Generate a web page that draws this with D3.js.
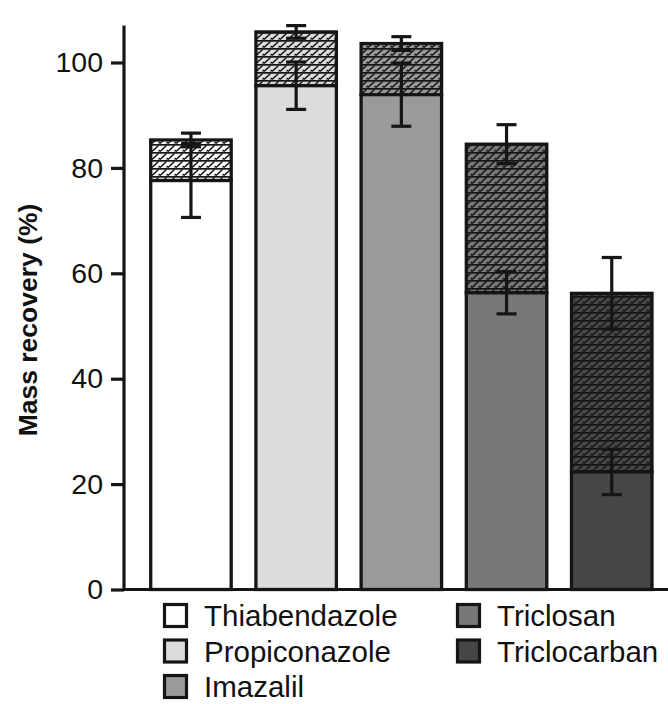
<!DOCTYPE html>
<html><head><meta charset="utf-8">
<script src="https://cdn.jsdelivr.net/npm/d3@7"></script>
<style>html,body{margin:0;padding:0;background:#fff;}svg{display:block;}</style>
</head><body><svg id="chart" width="668" height="704"></svg>
<script>
const categories = ["Thiabendazole","Propiconazole","Imazalil","Triclosan","Triclocarban"];
const baseValues = [77.6, 95.6, 93.9, 56.3, 22.3];
const baseErrors = [7.0, 4.5, 6.0, 4.0, 4.3];
const totalValues = [85.3, 105.8, 103.6, 84.5, 56.2];
const totalErrors = [1.3, 1.2, 1.3, 3.7, 6.8];
const fills = ["#ffffff","#dcdcdc","#9a9a9a","#787878","#464646"];
const yTicks = [0,20,40,60,80,100];
const yMaxValue = 107;

const svg = d3.select("#chart");
const ink = "#151515";
const font = "'Liberation Sans', Arial, sans-serif";

const y = d3.scaleLinear().domain([0,100]).range([589.5,62.5]);
const x = d3.scaleBand().domain(categories).range([124,678.7]).paddingInner(0.235).paddingOuter(0.254);

// hatch patterns
const defs = svg.append("defs");
categories.forEach((c,i)=>{
  const p = defs.append("pattern").attr("id","hatch"+i).attr("patternUnits","userSpaceOnUse")
    .attr("width",8).attr("height",8);
  p.append("rect").attr("width",8).attr("height",8).attr("fill",fills[i]);
  p.append("line").attr("x1",0).attr("y1",0.8).attr("x2",8).attr("y2",0.8).attr("stroke",ink).attr("stroke-width",1.8);
  p.append("line").attr("x1",0).attr("y1",7.5).attr("x2",6.5).attr("y2",1.5).attr("stroke",ink).attr("stroke-width",1.5);
  p.append("line").attr("x1",6.5).attr("y1",7.5).attr("x2",8).attr("y2",6).attr("stroke",ink).attr("stroke-width",1.5);
});

// bars
const g = svg.append("g");
categories.forEach((c,i)=>{
  g.append("rect").attr("x",x(c)).attr("width",x.bandwidth())
    .attr("y",y(totalValues[i])).attr("height",y(baseValues[i])-y(totalValues[i]))
    .attr("fill","url(#hatch"+i+")").attr("stroke",ink).attr("stroke-width",3.3);
  g.append("rect").attr("x",x(c)).attr("width",x.bandwidth())
    .attr("y",y(baseValues[i])).attr("height",y(0)-y(baseValues[i]))
    .attr("fill",fills[i]).attr("stroke",ink).attr("stroke-width",3.3);
});

// error bars
function errBar(cx, v, e){
  const cw = 10;
  g.append("line").attr("x1",cx).attr("x2",cx).attr("y1",y(v-e)).attr("y2",y(v+e)).attr("stroke",ink).attr("stroke-width",3.2);
  [v-e, v+e].forEach(t=>{
    g.append("line").attr("x1",cx-cw).attr("x2",cx+cw).attr("y1",y(t)).attr("y2",y(t)).attr("stroke",ink).attr("stroke-width",3.2);
  });
}
categories.forEach((c,i)=>{
  const cx = x(c)+x.bandwidth()/2;
  errBar(cx, baseValues[i], baseErrors[i]);
  errBar(cx, totalValues[i], totalErrors[i]);
});

// axes
const yAxis = svg.append("g").attr("transform","translate(124,0)")
  .call(d3.axisLeft(y).tickValues(yTicks).tickSize(13).tickPadding(8));
yAxis.select(".domain").remove();
yAxis.selectAll(".tick line").attr("stroke",ink).attr("stroke-width",3.2);
yAxis.selectAll(".tick text").attr("font-family",font).attr("font-size",28.5).attr("fill","#111");
svg.append("line").attr("x1",124).attr("x2",124).attr("y1",y(yMaxValue)).attr("y2",y(0)+1.5)
  .attr("stroke",ink).attr("stroke-width",3.2);
svg.append("line").attr("x1",122.5).attr("x2",668).attr("y1",y(0)).attr("y2",y(0))
  .attr("stroke",ink).attr("stroke-width",3.2);

svg.append("text").attr("transform","translate(37,320) rotate(-90)")
  .attr("text-anchor","middle").attr("font-family",font).attr("font-weight","bold")
  .attr("font-size",26.5).attr("fill","#111").text("Mass recovery (%)");

// legend
const legendCols = [[0,1,2],[3,4]];
const colX = [163, 456];
legendCols.forEach((col,ci)=>{
  col.forEach((idx,ri)=>{
    const ly = 603 + ri*35.5;
    svg.append("rect").attr("x",colX[ci]+1.5).attr("y",ly+1.5).attr("width",22).attr("height",22)
      .attr("fill",fills[idx]).attr("stroke",ink).attr("stroke-width",3.2);
    svg.append("text").attr("x",colX[ci]+41).attr("y",ly+23).attr("font-family",font)
      .attr("font-size",29.5).attr("fill","#111").text(categories[idx]);
  });
});
</script></body></html>
